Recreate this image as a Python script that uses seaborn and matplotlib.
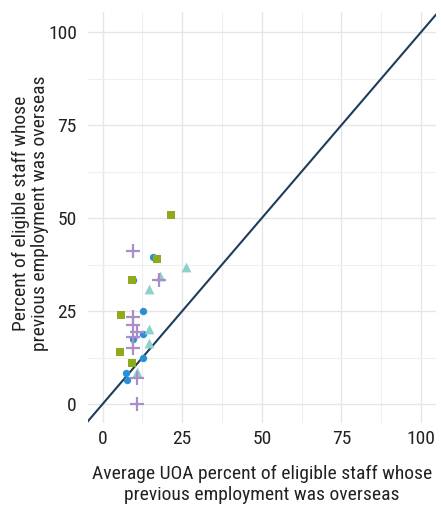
import matplotlib
matplotlib.use('Agg')
import matplotlib.pyplot as plt
import numpy as np
import pandas as pd
import seaborn as sns

# data
blue_x = [15.7, 9.4, 12.8, 12.8, 9.5, 12.8, 7.3, 7.7]
blue_y = [39.4, 33.4, 25.0, 18.7, 17.6, 12.5, 8.3, 6.4]
green_x = [21.4, 17.1, 9.2, 5.7, 5.5, 9.2]
green_y = [50.8, 39.1, 33.4, 23.9, 13.9, 11.1]
teal_x = [26.1, 17.9, 14.6, 14.7, 14.6, 10.7]
teal_y = [36.9, 34.5, 30.9, 20.2, 16.3, 8.5]
purple_x = [9.6, 17.7, 9.6, 9.6, 10.7, 9.6, 9.6, 10.7, 10.7]
purple_y = [41.2, 33.4, 23.3, 21.2, 19.4, 18.1, 15.0, 7.0, 0.0]

groups = ['A', 'B', 'C', 'D']
palette = {'A': '#2b8fd6', 'B': '#8fab1d', 'C': '#8ed0cb', 'D': '#a88fc8'}
markers = {'A': 'o', 'B': 's', 'C': '^', 'D': 'P'}

df = pd.concat([
    pd.DataFrame({'x': blue_x, 'y': blue_y, 'group': 'A'}),
    pd.DataFrame({'x': green_x, 'y': green_y, 'group': 'B'}),
    pd.DataFrame({'x': teal_x, 'y': teal_y, 'group': 'C'}),
    pd.DataFrame({'x': purple_x, 'y': purple_y, 'group': 'D'}),
], ignore_index=True)

sns.set_style('white')
plt.rcParams['font.family'] = ['Roboto Condensed', 'DejaVu Sans']

fig = plt.figure(figsize=(4.41, 5.11), dpi=100)
ax = fig.add_axes([0.1995, 0.1722, 0.7892, 0.8043])

ax.set_xlim(-4.6, 104.7)
ax.set_ylim(-5.1, 105.4)

ax.set_xticks([0, 25, 50, 75, 100])
ax.set_yticks([0, 25, 50, 75, 100])
ax.set_xticks([12.5, 37.5, 62.5, 87.5], minor=True)
ax.set_yticks([12.5, 37.5, 62.5, 87.5], minor=True)
ax.grid(which='major', color='#e6e6e6', linewidth=1.0)
ax.grid(which='minor', color='#efefef', linewidth=0.8)
ax.set_axisbelow(True)

for s in ax.spines.values():
    s.set_visible(False)
ax.tick_params(which='both', length=0)
ax.tick_params(axis='both', labelsize=14, labelcolor='#222222')
ax.tick_params(axis='x', pad=5)
ax.tick_params(axis='y', pad=8)

ax.plot([-10, 110], [-10, 110], color='#1d3d5e', linewidth=1.5, zorder=2)

for g in groups:
    sub = df[df['group'] == g]
    if g == 'D':
        ax.scatter(sub['x'], sub['y'], marker='+', s=90, linewidths=1.6,
                   color=palette[g], zorder=3)
    else:
        size = {'A': 28, 'B': 40, 'C': 50}[g]
        sns.scatterplot(data=sub, x='x', y='y', ax=ax, color=palette[g],
                        marker=markers[g], s=size, linewidth=0, zorder=3, legend=False)

ax.set_xlabel('Average UOA percent of eligible staff whose\nprevious employment was overseas',
              fontsize=14, color='#222222', labelpad=12, linespacing=1.25)
ax.set_ylabel('Percent of eligible staff whose\nprevious employment was overseas',
              fontsize=14, color='#222222', linespacing=1.1)
ax.yaxis.set_label_coords(-0.112, 0.51)

fig.savefig('out.png', dpi=100)
